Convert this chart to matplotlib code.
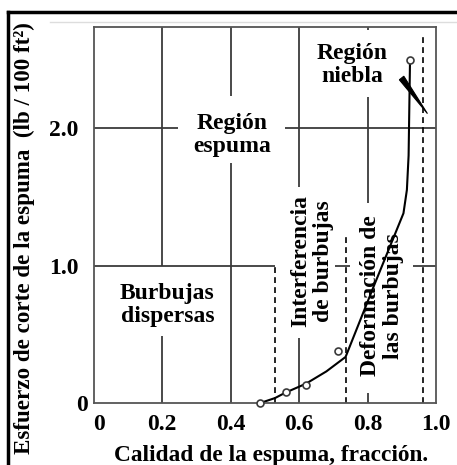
"""
Esfuerzo de corte de la espuma vs calidad de la espuma.
Regiones de flujo (burbujas dispersas, interferencia, deformación, niebla).
"""

import matplotlib.pyplot as plt
from matplotlib.lines import Line2D
from matplotlib.patches import Polygon
import matplotlib.transforms as mtransforms

# ============================================================
# DATOS
# ============================================================

# Puntos medidos (círculos)
calidad_medida = [0.487, 0.561, 0.620, 0.713, 0.924]
esfuerzo_medido = [0.00, 0.08, 0.13, 0.38, 2.495]

# Curva de ajuste
calidad_curva = [0.487, 0.53, 0.56, 0.62, 0.68, 0.736, 0.82, 0.905, 0.915, 0.920, 0.924]
esfuerzo_curva = [0.00, 0.036, 0.075, 0.14, 0.23, 0.335, 0.86, 1.38, 1.55, 1.80, 2.47]

# Límites de región (líneas discontinuas): x, y_inicio, y_fin
limites_x = [0.53, 0.737, 0.962]
limites_y0 = [0.0, 0.0, 0.0]
limites_y1 = [1.0, 1.24, 2.67]

# Cuadrícula con huecos alrededor de los textos
rejilla_v_x = [0.2, 0.2, 0.4, 0.4, 0.6, 0.6, 0.8, 0.8, 0.8]
rejilla_v_y0 = [1.0, 0.0, 0.0, 2.23, 1.57, 0.0, 2.71, 1.455, 0.0]
rejilla_v_y1 = [2.735, 0.49, 1.745, 2.735, 2.735, 0.47, 2.735, 2.225, 0.07]

rejilla_h_y = [2.0, 2.0, 1.0, 1.0, 1.0]
rejilla_h_x0 = [0.0, 0.559, 0.0, 0.705, 0.933]
rejilla_h_x1 = [0.247, 1.0, 0.53, 0.749, 1.0]

# Marca de ruptura (cuña) cerca de la región niebla
cuna_x = [0.893, 0.906, 0.975]
cuna_y = [2.351, 2.377, 2.105]

x_ticks = [0, 0.2, 0.4, 0.6, 0.8, 1.0]
x_labels = ["0", "0.2", "0.4", "0.6", "0.8", "1.0"]
y_ticks = [0, 1.0, 2.0]
y_labels = ["0", "1.0", "2.0"]

# ============================================================
# GRÁFICO
# ============================================================

plt.rcParams["font.family"] = ["Liberation Serif", "DejaVu Serif"]
plt.rcParams["font.weight"] = "bold"

fig = plt.figure(figsize=(4.57, 4.65), dpi=100)
ax = fig.add_axes([93.5 / 457, 62 / 465, 342.5 / 457, 376 / 465])

ax.set_xlim(0, 1.0)
ax.set_ylim(0, 2.735)

gris = "#3a3a3a"

ax.vlines(rejilla_v_x, rejilla_v_y0, rejilla_v_y1, color=gris, lw=1.3)
ax.hlines(rejilla_h_y, rejilla_h_x0, rejilla_h_x1, color=gris, lw=1.3)

ax.vlines(limites_x, limites_y0, limites_y1, color="black", lw=1.2,
          linestyles=(0, (3.5, 2.5)))

ax.plot(calidad_curva, esfuerzo_curva, color="black", lw=1.5,
        solid_capstyle="round")
ax.plot(calidad_medida, esfuerzo_medido, ls="none", marker="o", ms=5,
        mfc="white", mec=gris, mew=1.2, clip_on=False, zorder=5)

ax.add_patch(Polygon(list(zip(cuna_x, cuna_y)), closed=True,
                     facecolor="black", edgecolor="black", lw=0.8))

# Textos de las regiones
kw = dict(fontsize=17, fontweight="bold", ha="center", va="center",
          multialignment="center", linespacing=1.12)
ax.text(0.405, 1.95, "Región\nespuma", **kw)
ax.text(0.755, 2.46, "Región\nniebla", **kw)
ax.text(0.216, 0.71, "Burbujas\ndispersas", **kw)
ax.text(0.638, 1.03, "Interferencia\nde burbujas", rotation=90, **kw)
ax.text(0.843, 0.78, "Deformación de\nlas burbujas", rotation=90, **kw)

# Ejes
for s in ax.spines.values():
    s.set_color("#555555")
    s.set_linewidth(1.3)

ax.set_xticks(x_ticks)
ax.set_xticklabels(x_labels, fontsize=17, fontweight="bold")
ax.set_yticks(y_ticks)
ax.set_yticklabels(y_labels, fontsize=17, fontweight="bold")
ax.tick_params(length=0, pad=8)
ax.tick_params(axis="y", pad=11)

# Ajuste fino de los "0"
off_x = mtransforms.ScaledTranslation(6 / 100, 0, fig.dpi_scale_trans)
ax.get_xticklabels()[0].set_transform(ax.get_xticklabels()[0].get_transform() + off_x)
off_y = mtransforms.ScaledTranslation(10 / 100, 0, fig.dpi_scale_trans)
ax.get_yticklabels()[0].set_transform(ax.get_yticklabels()[0].get_transform() + off_y)

fig.text(271.5 / 457, 1 - 455 / 465, "Calidad de la espuma, fracción.",
         fontsize=16.8, fontweight="bold", ha="center", va="center")
fig.text(24 / 457, 1 - 238 / 465,
         "Esfuerzo de corte de la espuma  (lb / 100 ft²)",
         fontsize=16.6, fontweight="bold", ha="center", va="center", rotation=90)

# Marco exterior
fig.add_artist(Line2D([8 / 457, 1], [1 - 12 / 465] * 2, color="black", lw=2.5,
                      transform=fig.transFigure))
fig.add_artist(Line2D([8 / 457] * 2, [0, 1 - 12 / 465], color="black", lw=2.5,
                      transform=fig.transFigure))
fig.add_artist(Line2D([50 / 457, 1], [1 - 22.5 / 465] * 2, color="#dddddd",
                      lw=1.0, transform=fig.transFigure))

fig.savefig("out.png", dpi=100)
plt.close(fig)
